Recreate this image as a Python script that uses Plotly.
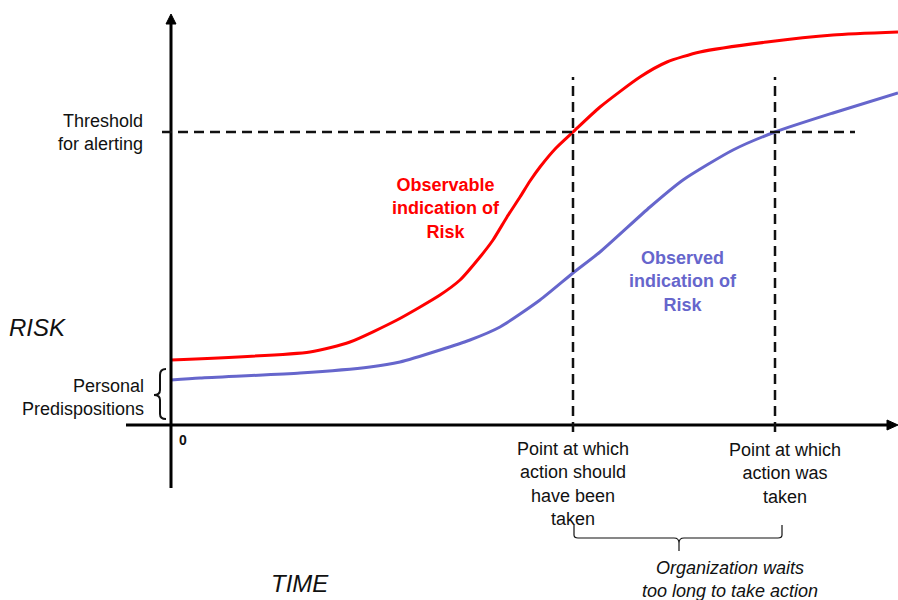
import plotly.graph_objects as go

# Time / risk samples for the two risk curves (time 0 at the vertical axis)
time_observable = [0, 139, 179, 226, 269, 289, 309, 322, 336, 349, 359, 369, 385, 402, 429, 469, 496, 529, 596, 662, 727]
risk_observable = [65, 73, 83, 105, 130, 145, 168, 185, 208, 228, 244, 258, 277, 293, 318, 348, 363, 373, 383, 390, 393]

time_observed = [0, 29, 129, 199, 229, 269, 299, 329, 369, 402, 429, 479, 512, 562, 604, 662, 727]
risk_observed = [45, 47, 52, 58, 63, 75, 85, 98, 125, 152, 173, 218, 245, 275, 293, 312, 332]

threshold = 293          # alert threshold on the risk scale
t_should = 402           # when action should have been taken
t_taken = 604            # when action was taken

RED = "#FF0000"
BLUE = "#6666CC"
INK = "#111111"
FONT = "Liberation Sans, Arial, sans-serif"

fig = go.Figure()

fig.add_trace(go.Scatter(x=time_observable, y=risk_observable, mode="lines",
                         line=dict(color=RED, width=3, shape="spline", smoothing=0.6),
                         hoverinfo="skip", showlegend=False))
fig.add_trace(go.Scatter(x=time_observed, y=risk_observed, mode="lines",
                         line=dict(color=BLUE, width=3, shape="spline", smoothing=0.6),
                         hoverinfo="skip", showlegend=False))

shapes = []
# axes
shapes.append(dict(type="line", x0=0, x1=0, y0=-63, y1=403, line=dict(color="black", width=3)))
shapes.append(dict(type="line", x0=-45, x1=719, y0=0, y1=0, line=dict(color="black", width=3)))
shapes.append(dict(type="path", path="M -5,401 L 5,401 L 0,411 Z",
                   fillcolor="black", line=dict(color="black", width=1)))
shapes.append(dict(type="path", path="M 716,5 L 716,-5 L 727,0 Z",
                   fillcolor="black", line=dict(color="black", width=1)))

# threshold and action markers
dash = "10px,6px"
shapes.append(dict(type="line", x0=-9, x1=684, y0=threshold, y1=threshold,
                   line=dict(color=INK, width=2.5, dash=dash)))
for t in (t_should, t_taken):
    shapes.append(dict(type="line", x0=t, x1=t, y0=-7, y1=348,
                       line=dict(color=INK, width=2.5, dash=dash)))

# brace next to the personal predispositions label
shapes.append(dict(type="path",
                   path="M -5,56 Q -11,56 -11,50 L -11,35 Q -11,30 -17,30 "
                        "Q -11,30 -11,25 L -11,11 Q -11,6 -5,6",
                   line=dict(color=INK, width=2)))
# brace spanning the delay between the two action points
shapes.append(dict(type="path",
                   path=f"M {t_should + 1},-100 L {t_should + 1},-110 Q {t_should + 1},-113 {t_should + 5},-113 "
                        f"L 503,-113 Q 508,-113 508,-118 L 508,-126 L 508,-118 Q 508,-113 513,-113 "
                        f"L {t_taken + 3},-113 Q {t_taken + 7},-113 {t_taken + 7},-110 L {t_taken + 7},-100",
                   line=dict(color=INK, width=1.2)))

ann = []
def label(x, y, text, size=18, color=INK, xanchor="center", align="center", **kw):
    ann.append(dict(x=x, y=y, xref="x", yref="y", text=text, showarrow=False,
                    xanchor=xanchor, yanchor="middle", align=align,
                    font=dict(family=FONT, size=size, color=color), **kw))

label(-26, threshold, "Threshold<br>for alerting", xanchor="right", align="right")
label(-164, 98, "<i>RISK</i>", size=24, xanchor="left")
label(-25, 28, "Personal<br>Predispositions", xanchor="right", align="right")
label(12, -15, "<b>0</b>", size=14)
label(275, 217, "<b>Observable<br>indication of<br>Risk</b>", color=RED)
label(512, 144, "<b>Observed<br>indication of<br>Risk</b>", color=BLUE)
label(t_should, -59, "Point at which<br>action should<br>have been<br>taken")
label(t_taken + 10, -48, "Point at which<br>action was<br>taken")
label(559, -154, "<i>Organization waits<br>too long to take action</i>")
label(129, -158, "<i>TIME</i>", size=24)

fig.update_layout(
    width=898, height=600,
    margin=dict(l=0, r=0, t=0, b=0),
    paper_bgcolor="white", plot_bgcolor="white",
    xaxis=dict(range=[-171, 727], visible=False, fixedrange=True),
    yaxis=dict(range=[-175, 425], visible=False, fixedrange=True),
    shapes=shapes, annotations=ann, showlegend=False,
)

fig.write_html("out.html")
